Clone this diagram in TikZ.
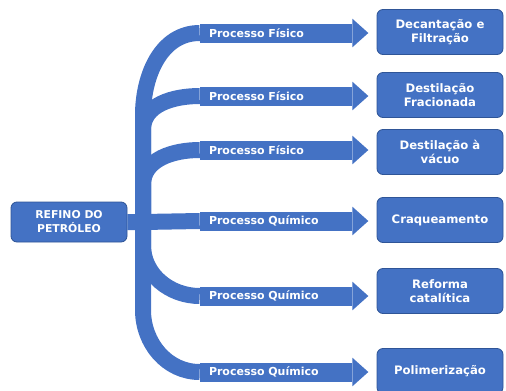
\documentclass[tikz,border=0pt]{standalone}
\usepackage{fontspec}
\setmainfont{DejaVu Sans}
\definecolor{azul}{HTML}{4472C4}
\definecolor{azulesc}{HTML}{2F5597}
\tikzset{
  caixa/.style={rectangle, rounded corners=3.6pt, fill=azul, draw=azulesc, line width=0.5pt,
    text=white, font=\fontsize{7}{8.5}\selectfont\bfseries, align=center,
    minimum width=75.6pt, minimum height=27pt, inner sep=1pt},
  haste/.style={rectangle, fill=azul, text=white, font=\fontsize{6.6}{7}\selectfont\bfseries,
    minimum height=11.4pt, text width=80.4pt, inner xsep=5.4pt, inner ysep=0pt, align=left},
  ligacao/.style={draw=azul, line width=9.6pt}
}

\begin{document}
\begin{tikzpicture}[x=0.6pt, y=-0.6pt]
  \useasboundingbox (0,0) rectangle (506,390);
  \node[caixa, minimum width=69.6pt, minimum height=24pt, font=\fontsize{6.5}{8.4}\selectfont\bfseries] (refino) at (69,222) {REFINO DO\\PETRÓLEO};
  \coordinate (centro) at (143,222);

  \node[haste] (p1) at (276,33) {Processo Físico};
  \node[haste] (p2) at (276,96) {Processo Físico};
  \node[haste] (p3) at (276,150) {Processo Físico};
  \node[haste] (p4) at (276,221) {Processo Químico};
  \node[haste] (p5) at (276,296) {Processo Químico};
  \node[haste] (p6) at (276,372) {Processo Químico};

  \node[caixa] (c1) at (440,32) {Decantação e\\Filtração};
  \node[caixa] (c2) at (440,95) {Destilação\\Fracionada};
  \node[caixa] (c3) at (440,152) {Destilação à\\vácuo};
  \node[caixa] (c4) at (440,220) {Craqueamento};
  \node[caixa] (c5) at (440,291) {Reforma\\catalítica};
  \node[caixa] (c6) at (440,371) {Polimerização};

  % ligacoes curvas
  \draw[ligacao] (refino.east) -- (centro) -- ++(0,-107) to[out=90,in=180] (p1.west);
  \draw[ligacao] (centro) -- ++(0,-92) to[out=90,in=180] (p2.west);
  \draw[ligacao] (centro) -- ++(0,-37) to[out=90,in=180] (p3.west);
  \draw[ligacao] (centro) -- (p4.west);
  \draw[ligacao] (centro) -- ++(0,23) to[out=270,in=180] (p5.west);
  \draw[ligacao] (centro) -- ++(0,88) to[out=270,in=180] (p6.west);

  \foreach \p in {p1,p2,p3,p4,p5,p6}
    \fill[azul] ([yshift=2.7pt]\p.north east) -- ([xshift=9.6pt]\p.east) -- ([yshift=-2.7pt]\p.south east) -- cycle;
\end{tikzpicture}
\end{document}
